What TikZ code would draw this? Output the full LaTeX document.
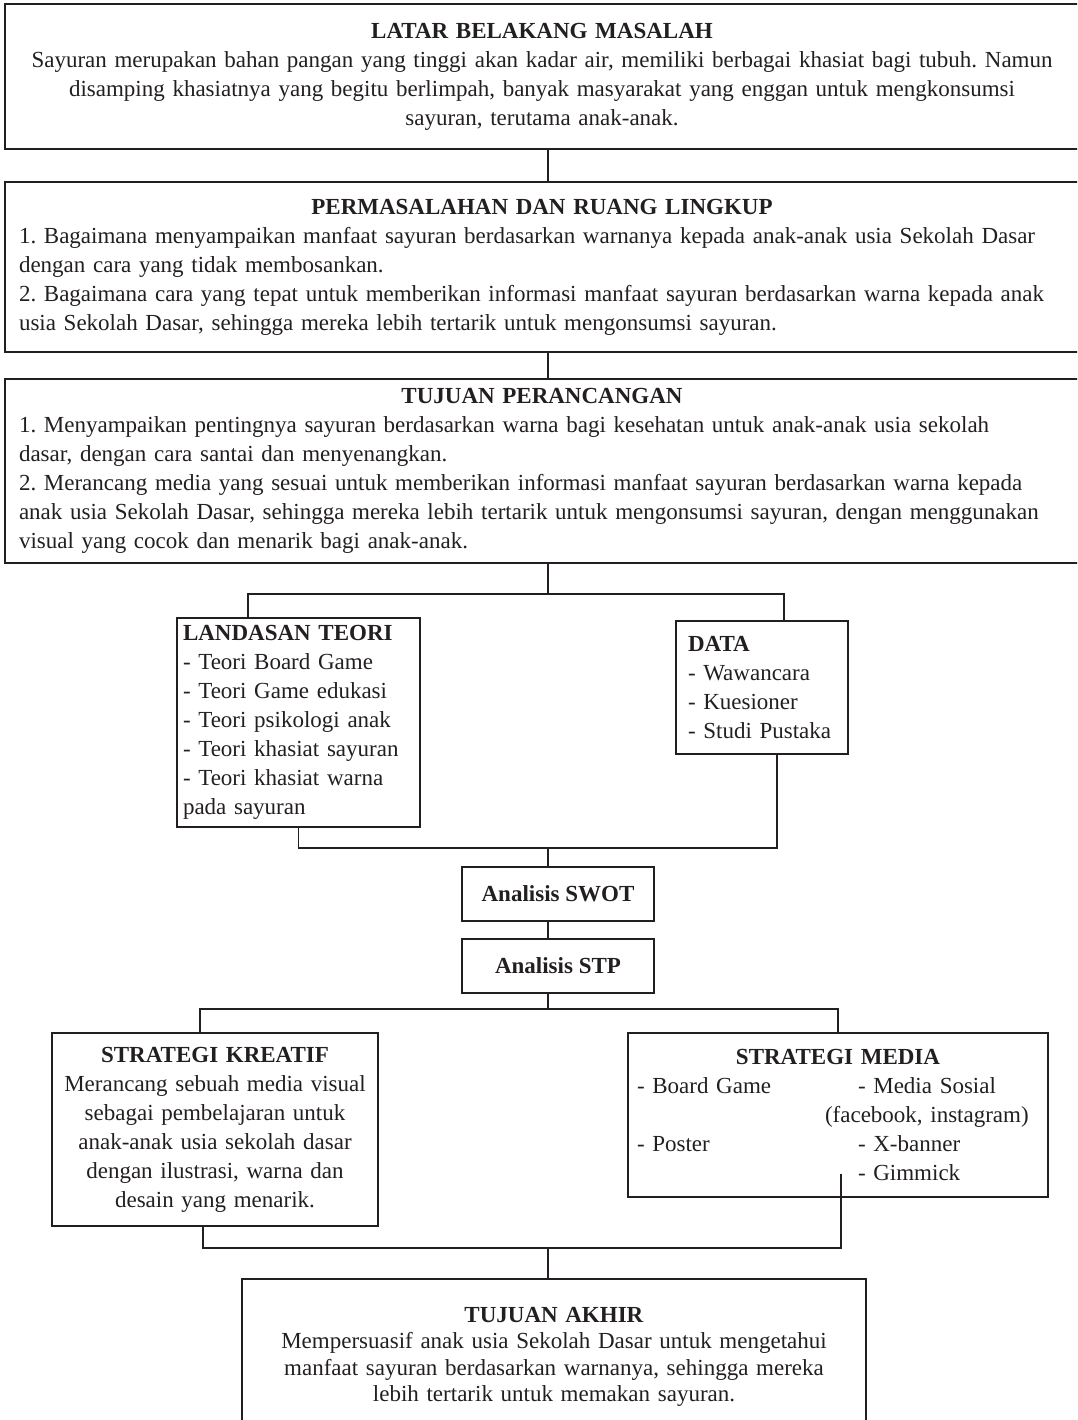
\documentclass[tikz,border=0pt]{standalone}
\usepackage{fontspec}
\setmainfont{Liberation Serif}
\usetikzlibrary{positioning}
\definecolor{ink}{HTML}{231F20}

\tikzset{
  box/.style={draw=ink, line width=2pt, text=ink, inner xsep=12pt, inner ysep=3pt,
    font=\fontsize{23}{29}\selectfont\frenchspacing},
  widebox/.style={box, minimum width=1090pt, text width=1062pt, inner xsep=14pt},
  link/.style={draw=ink, line width=1.8pt},
}

\begin{document}
\begin{tikzpicture}[x=1pt, y=-1pt]

  \useasboundingbox (0,0) rectangle (1077,1420);
  \clip (0,0) rectangle (1077,1420);

  % Define nodes
  \node[box, align=center, minimum width=1074pt, text width=1046pt, inner xsep=14pt,
        minimum height=145pt] (latar) at (542,76.5)
    {\textbf{LATAR BELAKANG MASALAH}\\
     Sayuran merupakan bahan pangan yang tinggi akan kadar air, memiliki berbagai khasiat bagi tubuh. Namun\\
     disamping khasiatnya yang begitu berlimpah, banyak masyarakat yang enggan untuk mengkonsumsi\\
     sayuran, terutama anak-anak.};
  \node[widebox, align=left, minimum height=170pt, below=31pt of latar, xshift=8pt] (perm)
    {\makebox[1046pt]{\textbf{PERMASALAHAN DAN RUANG LINGKUP}}\\
     1. Bagaimana menyampaikan manfaat sayuran berdasarkan warnanya kepada anak-anak usia Sekolah Dasar\\
     dengan cara yang tidak membosankan.\\
     2. Bagaimana cara yang tepat untuk memberikan informasi manfaat sayuran berdasarkan warna kepada anak\\
     usia Sekolah Dasar, sehingga mereka lebih tertarik untuk mengonsumsi sayuran.};
  \node[widebox, align=left, minimum height=184pt, below=25pt of perm] (tujuan)
    {\makebox[1046pt]{\textbf{TUJUAN PERANCANGAN}}\\
     1. Menyampaikan pentingnya sayuran berdasarkan warna bagi kesehatan untuk anak-anak usia sekolah\\
     dasar, dengan cara santai dan menyenangkan.\\
     2. Merancang media yang sesuai untuk memberikan informasi manfaat sayuran berdasarkan warna kepada\\
     anak usia Sekolah Dasar, sehingga mereka lebih tertarik untuk mengonsumsi sayuran, dengan menggunakan\\
     visual yang cocok dan menarik bagi anak-anak.};
  \node[box, align=left, text width=231pt, inner xsep=6pt, minimum height=209pt,
        below=53pt of tujuan, xshift=-251.5pt] (landasan)
    {\textbf{LANDASAN TEORI}\\
     - Teori Board Game\\
     - Teori Game edukasi\\
     - Teori psikologi anak\\
     - Teori khasiat sayuran\\
     - Teori khasiat warna\\
     pada sayuran};
  \node[box, align=left, text width=148pt, minimum height=133pt,
        below=56pt of tujuan, xshift=212pt] (data)
    {\textbf{DATA}\\
     - Wawancara\\
     - Kuesioner\\
     - Studi Pustaka};
  \node[box, minimum width=192pt, minimum height=54pt, below=38pt of landasan, xshift=259.5pt] (swot)
    {\textbf{Analisis SWOT}};
  \node[box, minimum width=192pt, minimum height=54pt, below=16pt of swot] (stp)
    {\textbf{Analisis STP}};
  \node[box, align=center, text width=314pt, inner xsep=6pt, minimum height=193pt,
        below=38pt of stp, xshift=-343pt] (kreatif)
    {\textbf{STRATEGI KREATIF}\\
     Merancang sebuah media visual\\
     sebagai pembelajaran untuk\\
     anak-anak usia sekolah dasar\\
     dengan ilustrasi, warna dan\\
     desain yang menarik.};
  \node[box, align=left, text width=402pt, inner xsep=9pt, minimum height=164pt,
        below=38pt of stp, xshift=280pt] (media)
    {\makebox[\hsize]{\textbf{STRATEGI MEDIA}}\\
     \makebox[221pt][l]{- Board Game}- Media Sosial\\
     \hspace*{188pt}(facebook, instagram)\\
     \makebox[221pt][l]{- Poster}- X-banner\\
     \hspace*{221pt}- Gimmick};
  \node[box, align=center, text width=600pt, minimum height=156pt, font=\fontsize{23}{26.5}\selectfont,
        below=51pt of kreatif, xshift=339pt] (akhir)
    {\textbf{TUJUAN AKHIR}\\
     Mempersuasif anak usia Sekolah Dasar untuk mengetahui\\
     manfaat sayuran berdasarkan warnanya, sehingga mereka\\
     lebih tertarik untuk memakan sayuran.};

  % Connect the nodes
  \coordinate (axis) at (548,0);
  \coordinate (split) at (548,594);
  \coordinate (merge) at (548,848);
  \coordinate (split2) at (548,1009);
  \coordinate (merge2) at (548,1248);
  \coordinate (mediaend) at (841,1174);

  \draw[link] (latar.south -| axis) -- (perm.north -| axis);
  \draw[link] (perm.south -| axis) -- (tujuan.north -| axis);
  \draw[link] (tujuan.south -| axis) -- (split);
  \draw[link] ([xshift=-50.5pt]landasan.north) |- (split) -| ([xshift=22pt]data.north);
  \draw[link] (landasan.south) |- (merge) -| ([xshift=15pt]data.south);
  \draw[link] (merge) -- (swot.north -| axis);
  \draw[link] (swot.south -| axis) -- (stp.north -| axis);
  \draw[link] (stp.south -| axis) -- (split2);
  \draw[link] ([xshift=-15pt]kreatif.north) |- (split2) -| (media.north);
  \draw[link] ([xshift=-12pt]kreatif.south) |- (merge2) -| (mediaend);
  \draw[link] (merge2) -- (akhir.north -| axis);

\end{tikzpicture}
\end{document}
